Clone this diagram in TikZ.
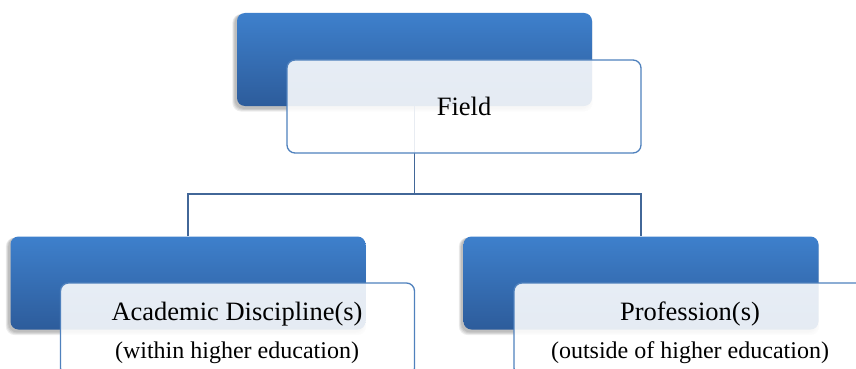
\documentclass[tikz,border=0pt]{standalone}
\usepackage{fontspec}
\setmainfont{Liberation Serif}
\usetikzlibrary{calc}
\definecolor{topblue}{RGB}{62,128,204}
\definecolor{botblue}{RGB}{45,92,155}
\definecolor{frameblue}{RGB}{79,129,189}
\definecolor{linkblue}{RGB}{66,103,152}
\begin{document}
\begin{tikzpicture}[x=1pt,y=-1pt,
  backbox/.style={rectangle, rounded corners=8pt, minimum width=355pt,
    minimum height=93pt, top color=topblue, bottom color=botblue, draw=none},
  frontbox/.style={rectangle, rounded corners=8pt, minimum width=354pt,
    minimum height=93pt, draw=frameblue, line width=1.3pt, fill=white,
    fill opacity=0.88},
  titletext/.style={font=\fontsize{26.5}{30}\selectfont, inner sep=0pt, anchor=base},
  subtext/.style={font=\fontsize{24}{28}\selectfont, inner sep=0pt, anchor=base},
  link/.style={draw=linkblue, line width=1.6pt},
  softshadow/.style={fill=black, fill opacity=0.07, rounded corners=9pt}]
\useasboundingbox (0,0) rectangle (856,369);
\clip (0,0) rectangle (856,369);

% soft shadows under the blue header boxes
\foreach \cx/\cy in {414.5/59.5, 188/283, 641/283}{
  \foreach \g in {1,2,3,4}{
    \path[softshadow] ($(\cx,\cy)+(-177.5-\g*0.8-1.5,-46.5+1)$) rectangle
                      ($(\cx,\cy)+(177.5+\g*0.8-2.5,46.5+\g*0.9+2)$);
  }
}

% blue header boxes
\node[backbox] (fieldback) at (414.5,59.5) {};
\node[backbox] (acadback) at (188,283) {};
\node[backbox] (profback) at (641,283) {};

% hierarchy connectors
\coordinate (hub) at (414.5,194);
\draw[link] (fieldback.south) -- (hub);
\draw[link] (acadback.north) |- (hub) -| (profback.north);

% translucent text boxes
\node[frontbox] (fieldbox) at (464,106.5) {};
\node[frontbox] (acadbox) at (237.5,329.5) {};
\node[frontbox] (profbox) at (691,329.5) {};

% labels
\node[titletext] (fieldlabel) at (464,115) {Field};
\node[titletext] (acadlabel) at (237,320) {Academic Discipline(s)};
\node[subtext] (acadnote) at (237,358) {(within higher education)};
\node[titletext] (proflabel) at (690,320) {Profession(s)};
\node[subtext] (profnote) at (690,358) {(outside of higher education)};
\end{tikzpicture}
\end{document}
